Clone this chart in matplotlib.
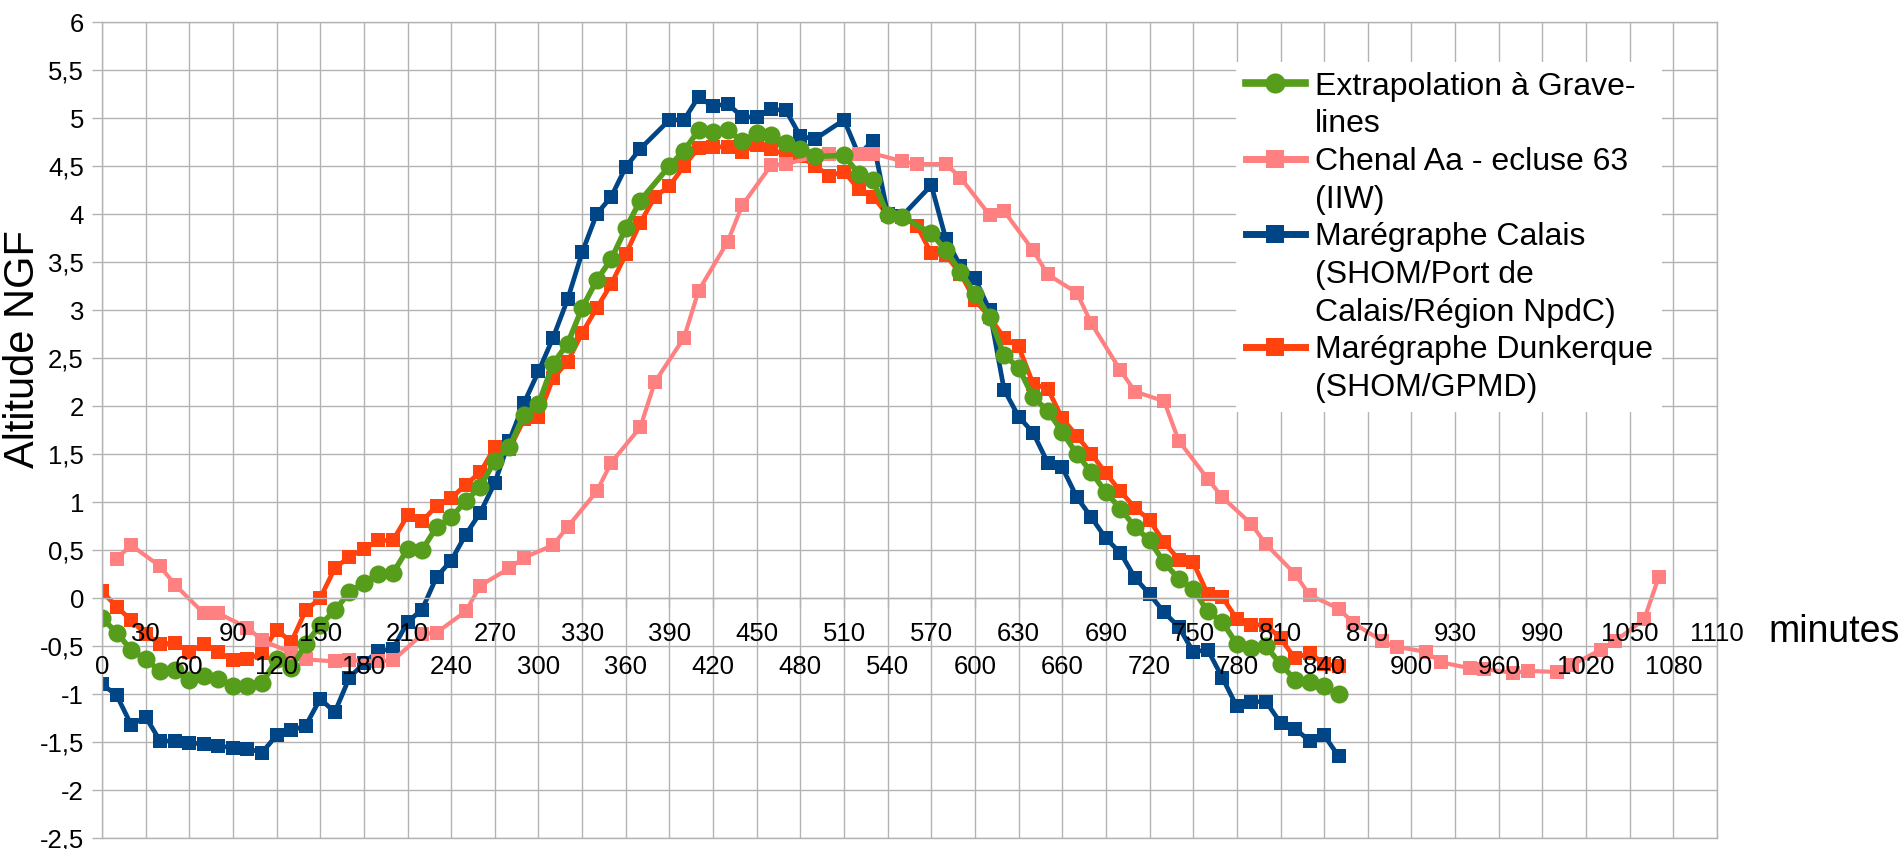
import matplotlib
matplotlib.use('Agg')
import matplotlib.pyplot as plt
from matplotlib.lines import Line2D

plt.rcParams['font.family'] = ['Liberation Sans', 'DejaVu Sans']

# ---------------- data ----------------
series_names = ['Extrapolation à Grave-\nlines', 'Chenal Aa - ecluse 63\n(IIW)',
                'Marégraphe Calais\n(SHOM/Port de\nCalais/Région NpdC)',
                'Marégraphe Dunkerque\n(SHOM/GPMD)']

t_extrap = [0, 10, 20, 30, 40, 50, 60, 70, 80, 90, 100, 110, 120, 130, 140, 150, 160, 170, 180, 190,
            200, 210, 220, 230, 240, 250, 260, 270, 280, 290, 300, 310, 320, 330, 340, 350, 360, 370,
            390, 400, 410, 420, 430, 440, 450, 460, 470, 480, 490,
            510, 520, 530, 540, 550,
            570, 580, 590, 600, 610, 620, 630, 640, 650, 660, 670, 680, 690, 700, 710, 720, 730, 740,
            750, 760, 770, 780, 790, 800, 810, 820, 830, 840, 850]
v_extrap = [-0.21, -0.36, -0.54, -0.64, -0.76, -0.75, -0.85, -0.81, -0.84, -0.92, -0.92, -0.89, -0.64,
            -0.73, -0.48, -0.28, -0.13, 0.06, 0.16, 0.25, 0.26, 0.51, 0.50, 0.74, 0.84, 1.01, 1.16, 1.43,
            1.57, 1.91, 2.02, 2.44, 2.65, 3.02, 3.31, 3.53, 3.85, 4.14,
            4.50, 4.66, 4.87, 4.85, 4.87, 4.76, 4.84, 4.82, 4.74, 4.68, 4.60,
            4.61, 4.42, 4.35, 3.99, 3.97,
            3.80, 3.62, 3.40, 3.17, 2.93, 2.53, 2.40, 2.09, 1.95, 1.73, 1.50, 1.31, 1.10, 0.93, 0.74, 0.60,
            0.37, 0.20, 0.09, -0.14, -0.25, -0.48, -0.52, -0.50, -0.69, -0.85, -0.87, -0.92, -1.00]

t_chenal = [10, 20, 40, 50, 70, 80, 100, 110, 130, 140, 160, 170, 190, 200, 220, 230, 250, 260, 280, 290,
            310, 320, 340, 350, 370, 380, 400, 410, 430, 440, 460, 470, 490, 500, 520, 530, 550, 560, 580,
            590, 610, 620, 640, 650, 670, 680, 700, 710, 730, 740, 760, 770, 790, 800, 820, 830, 850, 860,
            880, 890, 910, 920, 940, 950, 970, 980, 1000, 1010, 1030, 1040, 1060, 1070]
v_chenal = [0.41, 0.55, 0.33, 0.14, -0.16, -0.16, -0.31, -0.44, -0.57, -0.64,
            -0.66, -0.65, -0.66, -0.65, -0.38, -0.36, -0.14, 0.13, 0.31, 0.42,
            0.55, 0.74, 1.11, 1.41, 1.78, 2.25, 2.71, 3.20, 3.71, 4.09,
            4.51, 4.52, 4.60, 4.62, 4.62, 4.63, 4.55, 4.52, 4.52, 4.38,
            3.99, 4.03, 3.62, 3.37, 3.18, 2.86, 2.37, 2.15, 2.05, 1.64,
            1.24, 1.05, 0.77, 0.56, 0.25, 0.03, -0.11, -0.26, -0.45, -0.51,
            -0.56, -0.67, -0.73, -0.74, -0.78, -0.76, -0.77, -0.70, -0.54, -0.45,
            -0.22, 0.22]

t_calais = list(t_extrap)
v_calais = [-0.90, -1.01, -1.32, -1.24, -1.49, -1.49, -1.51, -1.52, -1.54, -1.56, -1.57, -1.61, -1.43,
            -1.38, -1.33, -1.05, -1.19, -0.83, -0.68, -0.55, -0.53, -0.25, -0.12, 0.22, 0.39, 0.66, 0.89,
            1.20, 1.64, 2.03, 2.36, 2.71, 3.11, 3.60, 4.00, 4.18, 4.49, 4.68,
            4.98, 4.98, 5.22, 5.12, 5.15, 5.01, 5.01, 5.09, 5.08, 4.81, 4.78,
            4.98, 4.62, 4.76, 4.00, 3.98,
            4.30, 3.74, 3.46, 3.33, 3.00, 2.17, 1.89, 1.72, 1.41, 1.36, 1.05, 0.84, 0.62, 0.47, 0.21, 0.04,
            -0.15, -0.30, -0.56, -0.54, -0.83, -1.13, -1.08, -1.08, -1.30, -1.36, -1.49, -1.43, -1.65]

t_dunk = [0, 10, 20, 30, 40, 50, 60, 70, 80, 90, 100, 110, 120, 130, 140, 150, 160, 170, 180, 190,
          200, 210, 220, 230, 240, 250, 260, 270, 280, 290, 300, 310, 320, 330, 340, 350, 360, 370, 380,
          390, 400, 410, 420, 430, 440, 450, 460, 470, 480, 490, 500, 510, 520, 530, 540, 550, 560, 570,
          580, 590, 600, 610, 620, 630, 640, 650, 660, 670, 680, 690, 700, 710, 720, 730, 740, 750, 760,
          770, 780, 790, 800, 810, 820, 830, 840, 850]
v_dunk = [0.07, -0.09, -0.23, -0.38, -0.48, -0.47, -0.56, -0.48, -0.56, -0.65, -0.64, -0.57, -0.33, -0.46,
          -0.13, 0.00, 0.31, 0.43, 0.51, 0.60, 0.60, 0.86, 0.80, 0.96, 1.04, 1.18, 1.31, 1.57, 1.55, 1.86,
          1.89, 2.29, 2.46, 2.76, 3.02, 3.27, 3.58, 3.91, 4.18, 4.29, 4.50, 4.69, 4.70, 4.70, 4.65, 4.72,
          4.68, 4.61, 4.60, 4.50, 4.40, 4.44, 4.26, 4.18, 3.99, 3.97, 3.88, 3.59, 3.57, 3.38, 3.10, 2.93,
          2.71, 2.62, 2.23, 2.18, 1.87, 1.69, 1.50, 1.30, 1.11, 0.94, 0.81, 0.58, 0.40, 0.37, 0.04, 0.01,
          -0.22, -0.28, -0.28, -0.42, -0.63, -0.57, -0.69, -0.71]

x_ticks = [0, 30, 60, 90, 120, 150, 180, 210, 240, 270, 300, 330, 360, 390, 420, 450, 480, 510, 540,
           570, 600, 630, 660, 690, 720, 750, 780, 810, 840, 870, 900, 930, 960, 990, 1020, 1050, 1080, 1110]
y_ticks = [-2.5, -2, -1.5, -1, -0.5, 0, 0.5, 1, 1.5, 2, 2.5, 3, 3.5, 4, 4.5, 5, 5.5, 6]

# ---------------- style ----------------
c_green = '#579d1c'
c_pink = '#ff8080'
c_blue = '#004586'
c_orange = '#ff420e'
c_grid = '#b3b3b3'

W, H = 1903, 849
fig = plt.figure(figsize=(W / 100, H / 100), dpi=100)
ax = fig.add_axes([102 / W, 11 / H, (1717 - 102) / W, (838 - 22) / H])
ax.set_xlim(0, 1110)
ax.set_ylim(-2.5, 6)

ax.plot(t_dunk, v_dunk, color=c_orange, lw=3.4, marker='s', ms=9.5, mec=c_orange, mew=0, zorder=2)
ax.plot(t_calais, v_calais, color=c_blue, lw=3.4, marker='s', ms=9.5, mec=c_blue, mew=0, zorder=2.1)
ax.plot(t_chenal, v_chenal, color=c_pink, lw=3.0, marker='s', ms=9.5, mec=c_pink, mew=0, zorder=2.2)
ax.plot(t_extrap, v_extrap, color=c_green, lw=4.0, marker='o', ms=13, mec=c_green, mew=0, zorder=2.3)

ax.set_xticks(x_ticks)
ax.set_yticks(y_ticks)
ax.set_yticklabels([('%g' % v).replace('.', ',') for v in y_ticks])
ax.tick_params(axis='x', direction='out', length=7, width=1, color=c_grid, labelbottom=False)
ax.tick_params(axis='y', direction='out', length=7, width=1, color=c_grid, labelsize=18.5, pad=6)
ax.grid(True, color=c_grid, lw=1.0)
ax.set_axisbelow(True)
for s in ax.spines.values():
    s.set_color(c_grid)
    s.set_linewidth(1.0)
ax.spines['bottom'].set_position(('data', 0))
ax.axhline(-2.5, color=c_grid, lw=1.0, zorder=0.5, clip_on=False)

# staggered x tick labels, drawn on top of the data
for i, t in enumerate(x_ticks):
    yb = -0.448 if i % 2 == 1 else -0.79
    ax.text(t, yb, str(t), ha='center', va='baseline', fontsize=18.5, zorder=6, clip_on=False)

fig.text(1768 / W, 1 - 642 / H, 'minutes', fontsize=27, ha='left', va='baseline')
fig.text(23 / W, 1 - 349 / H, 'Altitude NGF', fontsize=30, rotation=90, ha='center', va='center')

# legend (one row per text line, handle on the first line of each entry)
h_green = Line2D([], [], color=c_green, lw=5.5, marker='o', ms=14.5, mew=0)
h_pink = Line2D([], [], color=c_pink, lw=5, marker='s', ms=13.5, mew=0)
h_blue = Line2D([], [], color=c_blue, lw=5, marker='s', ms=13.5, mew=0)
h_orange = Line2D([], [], color=c_orange, lw=5, marker='s', ms=13.5, mew=0)
blank = Line2D([], [], linestyle='none')
handles, labels = [], []
for h, name in zip([h_green, h_pink, h_blue, h_orange], series_names):
    parts = name.split('\n')
    handles.append(h)
    labels.append(parts[0])
    for p in parts[1:]:
        handles.append(blank)
        labels.append(p)

leg = ax.legend(handles, labels, loc='upper left', bbox_to_anchor=(1236 / W, 1 - 62 / H),
                bbox_transform=fig.transFigure, fontsize=23, frameon=True, fancybox=False,
                edgecolor='none', facecolor='white', framealpha=1, borderpad=0.3,
                labelspacing=0.24, handlelength=1.87, handletextpad=0.3, borderaxespad=0)
leg.set_zorder(10)

fig.savefig('out.png', dpi=100)
